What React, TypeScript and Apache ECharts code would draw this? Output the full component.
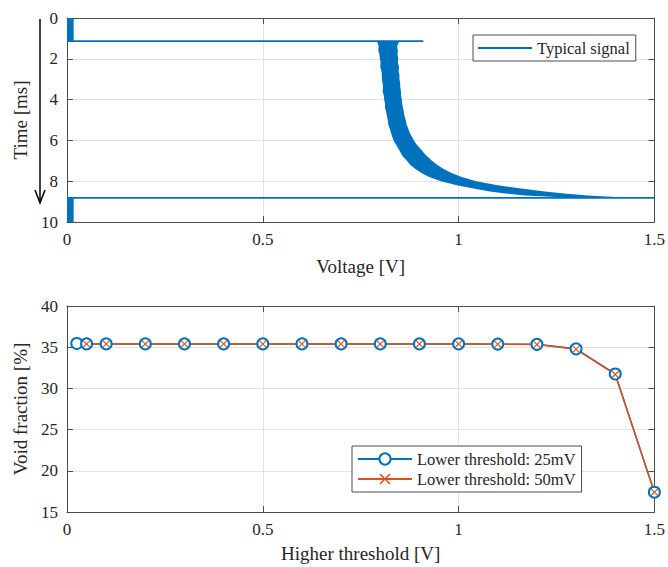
import React, { useEffect, useRef } from "react";
import * as echarts from "echarts";

const FONT = "'Liberation Serif', 'Times New Roman', serif";
const TEXT = "#262626";
const AXIS = "#4d4d4d";
const GRID = "#e3e3e3";
const BLUE = "#0072BD";
const ORANGE = "#D95319";

// ---------- Top panel: typical signal ----------
const voltageTicks = [0, 0.5, 1, 1.5];
const timeTicks = [0, 2, 4, 6, 8, 10];
const triggerTime = 1.13; // ms
const triggerLevel = 0.91; // V
const endTime = 8.82; // ms
const endLevel = 1.5; // V
const noiseSpans = [
  [0, 1.13],
  [8.82, 10],
];
const noiseLevel = 0.017; // V
const bandTime = [1.13, 1.2, 1.4, 1.6, 1.8, 2.0, 2.2, 2.4, 2.6, 2.8, 3.0, 3.2, 3.4, 3.6, 3.8, 4.0, 4.2, 4.4, 4.6, 4.8, 5.0, 5.2, 5.4, 5.6, 5.8, 6.0, 6.2, 6.4, 6.6, 6.8, 7.0, 7.2, 7.4, 7.6, 7.8, 8.0, 8.2, 8.35, 8.5, 8.6, 8.7, 8.78, 8.82];
const bandLeft = [0.79, 0.793, 0.796, 0.795, 0.798, 0.799, 0.801, 0.8, 0.803, 0.804, 0.804, 0.806, 0.807, 0.806, 0.809, 0.81, 0.812, 0.812, 0.815, 0.817, 0.819, 0.82, 0.824, 0.827, 0.83, 0.834, 0.84, 0.846, 0.852, 0.858, 0.868, 0.877, 0.89, 0.905, 0.925, 0.955, 0.995, 1.035, 1.08, 1.12, 1.17, 1.25, 1.35];
const bandRight = [0.85, 0.847, 0.843, 0.845, 0.844, 0.846, 0.845, 0.848, 0.847, 0.849, 0.849, 0.851, 0.851, 0.853, 0.853, 0.855, 0.856, 0.858, 0.86, 0.862, 0.865, 0.867, 0.871, 0.875, 0.88, 0.886, 0.893, 0.902, 0.911, 0.921, 0.932, 0.946, 0.962, 0.982, 1.008, 1.045, 1.1, 1.155, 1.22, 1.27, 1.33, 1.4, 1.5];

// ---------- Bottom panel: void fraction ----------
const thresholdTicks = [0, 0.5, 1, 1.5];
const voidTicks = [15, 20, 25, 30, 35, 40];
const higher25 = [0.025, 0.05, 0.1, 0.2, 0.3, 0.4, 0.5, 0.6, 0.7, 0.8, 0.9, 1.0, 1.1, 1.2, 1.3, 1.4, 1.5];
const void25 = [35.45, 35.4, 35.4, 35.4, 35.4, 35.4, 35.4, 35.4, 35.4, 35.4, 35.4, 35.4, 35.38, 35.35, 34.8, 31.75, 17.4];
const higher50 = [0.05, 0.1, 0.2, 0.3, 0.4, 0.5, 0.6, 0.7, 0.8, 0.9, 1.0, 1.1, 1.2, 1.3, 1.4, 1.5];
const void50 = [35.38, 35.38, 35.38, 35.38, 35.38, 35.38, 35.38, 35.38, 35.38, 35.38, 35.38, 35.36, 35.33, 34.75, 31.7, 17.4];

const X_SYMBOL = "path://M0,1 L1,0 L5,4 L9,0 L10,1 L6,5 L10,9 L9,10 L5,6 L1,10 L0,9 L4,5 Z";

function valueAxis(ticks: number[], extra: any) {
  return {
    type: "value",
    min: ticks[0],
    max: ticks[ticks.length - 1],
    interval: ticks[1] - ticks[0],
    axisLine: { show: true, onZero: false, lineStyle: { color: AXIS, width: 1 } },
    axisTick: { show: true, inside: true, length: 6, lineStyle: { color: AXIS } },
    axisLabel: { fontFamily: FONT, fontSize: 17, color: TEXT, margin: 9 },
    splitLine: { show: true, lineStyle: { color: GRID, width: 1 } },
    nameTextStyle: { fontFamily: FONT, fontSize: 19, color: TEXT },
    ...extra,
  };
}

function mirrorAxis(ticks: number[], extra: any) {
  return {
    type: "value",
    min: ticks[0],
    max: ticks[ticks.length - 1],
    interval: ticks[1] - ticks[0],
    axisLine: { show: true, onZero: false, lineStyle: { color: AXIS, width: 1 } },
    axisTick: { show: true, inside: true, length: 6, lineStyle: { color: AXIS } },
    axisLabel: { show: false },
    splitLine: { show: false },
    ...extra,
  };
}

export default function App() {
  const ref = useRef<HTMLDivElement>(null);

  useEffect(() => {
    if (!ref.current) return;
    const chart = echarts.init(ref.current, null, { renderer: "svg" });

    const legendText = { fontFamily: FONT, fontSize: 16.5, color: TEXT, lineHeight: 18 };
    const legendBox = {
      orient: "vertical",
      itemWidth: 54,
      itemGap: 2,
      padding: [4, 6, 4, 5],
      borderColor: AXIS,
      borderWidth: 1,
      borderRadius: 0,
      backgroundColor: "#ffffff",
      textStyle: legendText,
    };

    const option: any = {
      animation: false,
      backgroundColor: "#ffffff",
      grid: [
        { left: 67, top: 18, width: 589, height: 204 },
        { left: 67, top: 306, width: 589, height: 206 },
      ],
      xAxis: [
        valueAxis(voltageTicks, { gridIndex: 0, name: "Voltage [V]", nameLocation: "middle", nameGap: 35 }),
        mirrorAxis(voltageTicks, { gridIndex: 0, position: "top" }),
        valueAxis(thresholdTicks, { gridIndex: 1, name: "Higher threshold [V]", nameLocation: "middle", nameGap: 32 }),
        mirrorAxis(thresholdTicks, { gridIndex: 1, position: "top" }),
      ],
      yAxis: [
        valueAxis(timeTicks, { gridIndex: 0, inverse: true, name: "Time [ms]", nameLocation: "middle", nameGap: 33 }),
        mirrorAxis(timeTicks, { gridIndex: 0, inverse: true, position: "right" }),
        valueAxis(voidTicks, { gridIndex: 1, name: "Void fraction [%]", nameLocation: "middle", nameGap: 33 }),
        mirrorAxis(voidTicks, { gridIndex: 1, position: "right" }),
      ],
      legend: [
        {
          ...legendBox,
          data: [{ name: "Typical signal", icon: "rect" }],
          left: 473,
          top: 35,
          itemHeight: 2,
        },
        {
          ...legendBox,
          data: ["Lower threshold: 25mV", "Lower threshold: 50mV"],
          left: 352,
          top: 446,
          itemHeight: 14,
        },
      ],
      series: [
        {
          type: "custom",
          name: "band",
          xAxisIndex: 0,
          yAxisIndex: 0,
          clip: true,
          silent: true,
          data: [[0, 0]],
          renderItem: (_params: any, api: any) => {
            const pts: number[][] = [];
            for (let i = 0; i < bandTime.length; i++) pts.push(api.coord([bandLeft[i], bandTime[i]]));
            for (let i = bandTime.length - 1; i >= 0; i--) pts.push(api.coord([bandRight[i], bandTime[i]]));
            const children: any[] = [
              { type: "polygon", shape: { points: pts }, style: { fill: BLUE } },
            ];
            noiseSpans.forEach(([t0, t1]) => {
              const a = api.coord([0, t0]);
              const b = api.coord([noiseLevel, t1]);
              children.push({
                type: "rect",
                shape: { x: a[0], y: Math.min(a[1], b[1]), width: b[0] - a[0], height: Math.abs(b[1] - a[1]) },
                style: { fill: BLUE },
              });
            });
            return { type: "group", children };
          },
        },
        {
          type: "line",
          name: "Typical signal",
          xAxisIndex: 0,
          yAxisIndex: 0,
          symbol: "none",
          lineStyle: { color: BLUE, width: 1.8 },
          itemStyle: { color: BLUE },
          data: [
            [0, triggerTime],
            [triggerLevel, triggerTime],
          ],
        },
        {
          type: "line",
          name: "Typical signal",
          xAxisIndex: 0,
          yAxisIndex: 0,
          symbol: "none",
          lineStyle: { color: BLUE, width: 1.8 },
          itemStyle: { color: BLUE },
          data: [
            [0, endTime],
            [endLevel, endTime],
          ],
        },
        {
          type: "line",
          name: "Lower threshold: 25mV",
          xAxisIndex: 2,
          yAxisIndex: 2,
          symbol: "emptyCircle",
          symbolSize: 11,
          lineStyle: { color: BLUE, width: 1.5 },
          itemStyle: { color: BLUE, borderWidth: 1.8 },
          data: higher25.map((x, i) => [x, void25[i]]),
        },
        {
          type: "line",
          name: "Lower threshold: 50mV",
          xAxisIndex: 2,
          yAxisIndex: 2,
          symbol: X_SYMBOL,
          symbolSize: 8,
          lineStyle: { color: ORANGE, width: 1.5 },
          itemStyle: { color: ORANGE },
          data: higher50.map((x, i) => [x, void50[i]]),
        },
      ],
      graphic: [
        {
          type: "line",
          shape: { x1: 40, y1: 19, x2: 40, y2: 202 },
          style: { stroke: "#000000", lineWidth: 1.5 },
        },
        {
          type: "polyline",
          shape: { points: [[35, 190], [40, 203], [45, 190]] },
          style: { stroke: "#000000", lineWidth: 1.5, fill: "none" },
        },
      ],
    };

    chart.setOption(option);
    return () => chart.dispose();
  }, []);

  return (
    <div
      ref={ref}
      style={{ position: "absolute", left: 0, top: 0, width: 668, height: 567, background: "#fff" }}
    />
  );
}
